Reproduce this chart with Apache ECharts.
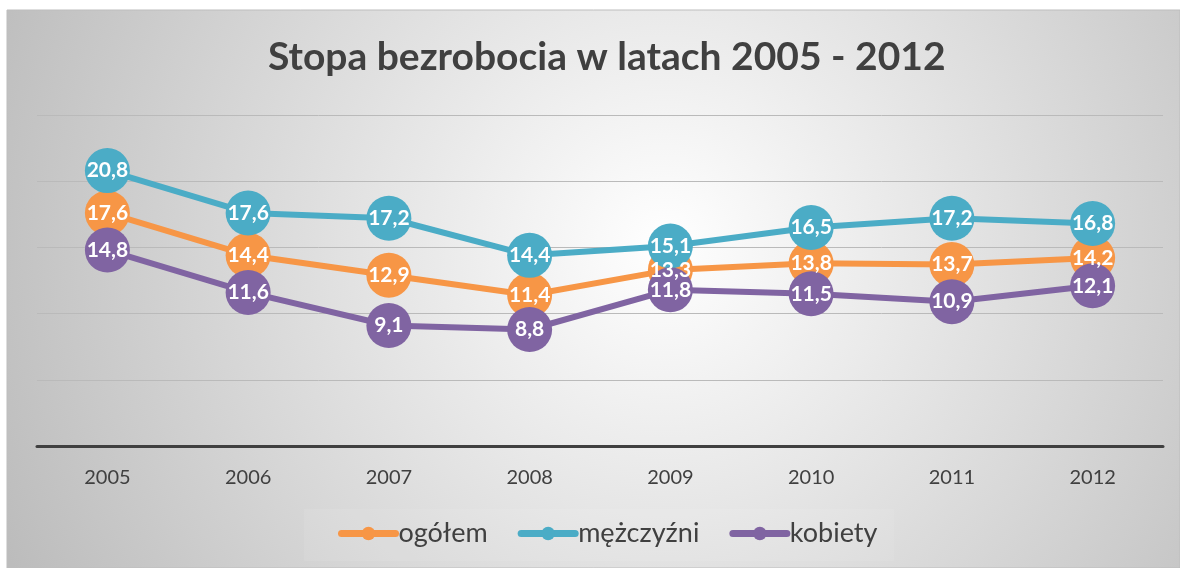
<!DOCTYPE html>
<html>
<head>
<meta charset="utf-8">
<script src="https://cdn.jsdelivr.net/npm/echarts@6/dist/echarts.min.js"></script>
<style>
  html, body { margin: 0; padding: 0; background: #fff; }
  #chart { width: 1180px; height: 568px; }
</style>
</head>
<body>
<div id="chart"></div>
<script>
var years = ['2005', '2006', '2007', '2008', '2009', '2010', '2011', '2012'];
var ogolem = [17.6, 14.4, 12.9, 11.4, 13.3, 13.8, 13.7, 14.2];
var mezczyzni = [20.8, 17.6, 17.2, 14.4, 15.1, 16.5, 17.2, 16.8];
var kobiety = [14.8, 11.6, 9.1, 8.8, 11.8, 11.5, 10.9, 12.1];

var textColor = '#404040';
var font = 'Lato';

function makeSeries(name, data, color) {
  return {
    name: name,
    type: 'line',
    data: data,
    symbol: 'circle',
    symbolSize: 45,
    itemStyle: { color: color },
    lineStyle: { color: color, width: 6 },
    label: {
      show: true,
      position: 'inside',
      color: '#fff',
      fontFamily: font,
      fontWeight: 'bold',
      fontSize: 21,
      formatter: function(p) {
        return p.value.toFixed(1).replace('.', ',');
      }
    },
    emphasis: { disabled: true },
    animation: false
  };
}

var chart = echarts.init(document.getElementById('chart'));
chart.setOption({
  graphic: [{
    type: 'rect',
    z: -10,
    silent: true,
    shape: { x: 7, y: 10, width: 1173, height: 558 },
    style: {
      fill: new echarts.graphic.RadialGradient(0.56, 0.42, 1.3, [
        { offset: 0, color: '#ffffff' },
        { offset: 1, color: '#bcbcbc' }
      ]),
      stroke: '#bdbdbd',
      lineWidth: 1
    }
  }, {
    type: 'rect',
    z: -9,
    silent: true,
    shape: { x: 304, y: 509, width: 590, height: 52 },
    style: { fill: 'rgba(255,255,255,0.08)' }
  }],
  title: {
    text: 'Stopa bezrobocia w latach 2005 - 2012',
    left: 263,
    top: 33,
    textStyle: {
      color: textColor,
      fontFamily: font,
      fontWeight: 'bold',
      fontSize: 39
    }
  },
  legend: {
    bottom: 16,
    left: 333,
    itemWidth: 54,
    itemHeight: 17,
    itemGap: 30,
    lineStyle: { width: 7, cap: 'round' },
    textStyle: { color: textColor, fontFamily: font, fontSize: 27, padding: [0, 0, 0, -2] },
    data: ['ogółem', 'mężczyźni', 'kobiety']
  },
  grid: { left: 37, right: 17, top: 115, bottom: 122 },
  xAxis: {
    type: 'category',
    data: years,
    boundaryGap: true,
    axisLine: { lineStyle: { color: textColor, width: 3 } },
    axisTick: { show: false },
    axisLabel: { color: textColor, fontFamily: font, fontSize: 20, margin: 22 }
  },
  yAxis: {
    type: 'value',
    min: 0,
    max: 25,
    interval: 5,
    axisLabel: { show: false },
    axisLine: { show: false },
    axisTick: { show: false },
    splitLine: { lineStyle: { color: '#bababa', width: 1 } }
  },
  series: [
    makeSeries('ogółem', ogolem, '#F79646'),
    makeSeries('mężczyźni', mezczyzni, '#4BACC6'),
    makeSeries('kobiety', kobiety, '#8064A2')
  ]
});
</script>
</body>
</html>
